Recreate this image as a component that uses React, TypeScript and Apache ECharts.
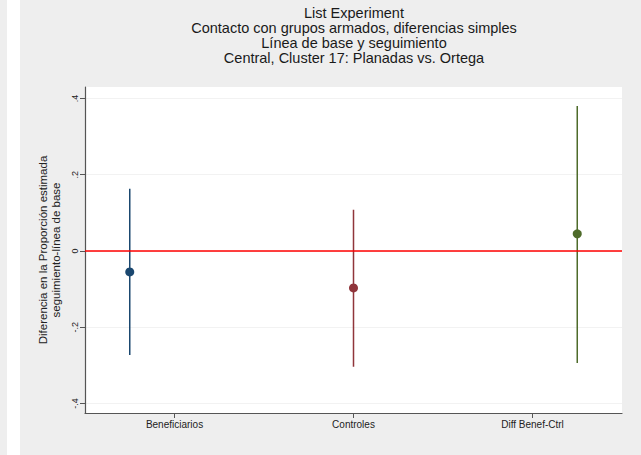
import React, { useEffect, useRef } from "react";
import * as echarts from "echarts";

const titleLines = [
  "List Experiment",
  "Contacto con grupos armados, diferencias simples",
  "Línea de base y seguimiento",
  "Central, Cluster 17: Planadas vs. Ortega",
];
const groups = ["Beneficiarios", "Controles", "Diff Benef-Ctrl"];
const groupX = [1, 2, 3];
const estimates = [-0.055, -0.097, 0.045];
const lower = [-0.273, -0.304, -0.294];
const upper = [0.163, 0.108, 0.38];
const colors = ["#1a476f", "#90353b", "#4e6b2a"];
const xTickValues = [1.2, 2, 2.8];
const yTickValues = [-0.4, -0.2, 0, 0.2, 0.4];
const yTickLabels = ["-.4", "-.2", "0", ".2", ".4"];
const yTitle = "Diferencia en la Proporción estimada\nseguimiento-línea de base";

export default function App() {
  const ref = useRef<HTMLDivElement>(null);
  useEffect(() => {
    document.body.style.margin = "0";
    if (!ref.current) return;
    const chart = echarts.init(ref.current, undefined, { renderer: "svg" });
    const font = "'Liberation Sans', Arial, sans-serif";
    const series: any[] = [];
    groups.forEach((g, i) => {
      series.push({
        type: "line",
        name: g + " IC",
        data: [
          [groupX[i], lower[i]],
          [groupX[i], upper[i]],
        ],
        symbol: "none",
        lineStyle: { color: colors[i], width: 1.5 },
        z: 3,
      });
      series.push({
        type: "scatter",
        name: g,
        data: [[groupX[i], estimates[i]]],
        symbol: "circle",
        symbolSize: 9,
        itemStyle: { color: colors[i], opacity: 1 },
        z: 4,
      });
    });
    series.push({
      type: "line",
      name: "zero",
      data: [],
      markLine: {
        silent: true,
        symbol: "none",
        label: { show: false },
        lineStyle: { color: "#ff0000", width: 1.5, type: "solid" },
        data: [{ yAxis: 0 }],
      },
      z: 2,
    });
    const titleGraphics = titleLines.map((t, i) => ({
      type: "text",
      x: 354,
      y: 5 + i * 15,
      style: {
        text: t,
        fill: "#1a1a1a",
        font: "14.5px " + font,
        align: "center",
        verticalAlign: "top",
      },
    }));
    chart.setOption({
      animation: false,
      backgroundColor: "#ffffff",
      textStyle: { fontFamily: font },
      graphic: [
        { type: "rect", shape: { x: 0, y: 0, width: 7, height: 455 }, style: { fill: "#eeeeee" }, z: -10 },
        { type: "rect", shape: { x: 20, y: 0, width: 621, height: 455 }, style: { fill: "#eeeeee" }, z: -10 },
        ...titleGraphics,
      ],
      grid: {
        left: 85,
        right: 19,
        top: 87,
        bottom: 42,
        show: true,
        backgroundColor: "#ffffff",
        borderWidth: 0,
      },
      xAxis: {
        type: "value",
        min: 0.8,
        max: 3.2,
        axisLine: { show: true, onZero: false, lineStyle: { color: "#555555", width: 1.2 } },
        axisTick: { show: true, length: 5, customValues: xTickValues, lineStyle: { color: "#555555" } },
        axisLabel: {
          customValues: xTickValues,
          formatter: (v: number) => {
            const idx = xTickValues.findIndex((t) => Math.abs(t - v) < 1e-6);
            return idx >= 0 ? groups[idx] : "";
          },
          fontSize: 10,
          color: "#222222",
          margin: 6,
        },
        splitLine: { show: false },
      },
      yAxis: {
        type: "value",
        min: -0.425,
        max: 0.43,
        name: yTitle,
        nameLocation: "middle",
        nameRotate: 90,
        nameGap: 20,
        nameTextStyle: { fontSize: 11.5, color: "#222222", lineHeight: 13, align: "center" },
        axisLine: { show: true, lineStyle: { color: "#555555", width: 1.2 } },
        axisTick: { show: true, length: 5, customValues: yTickValues, lineStyle: { color: "#555555" } },
        axisLabel: {
          customValues: yTickValues,
          rotate: 90,
          formatter: (v: number) => {
            const idx = yTickValues.findIndex((t) => Math.abs(t - v) < 1e-6);
            return idx >= 0 ? yTickLabels[idx] : "";
          },
          fontSize: 9,
          color: "#222222",
          margin: 6,
        },
        splitLine: { show: true, lineStyle: { color: "#f2f2f2", width: 1 } },
      },
      series,
    });
    return () => chart.dispose();
  }, []);
  return <div ref={ref} style={{ width: 641, height: 455 }} />;
}
